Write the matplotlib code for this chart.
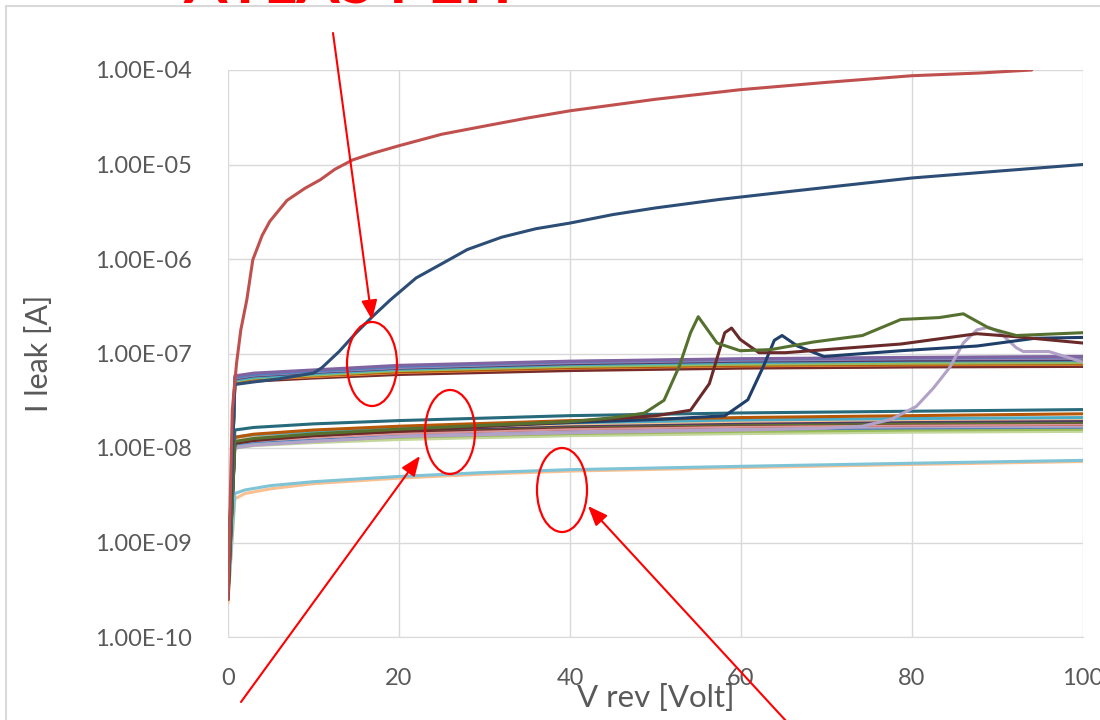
import matplotlib
matplotlib.use("Agg")
import matplotlib.pyplot as plt
from matplotlib.patches import Ellipse, Rectangle
from matplotlib.transforms import IdentityTransform
from matplotlib.ticker import FixedLocator, NullLocator, FuncFormatter

plt.rcParams["font.family"] = ["Lato", "DejaVu Sans"]

# common voltage grid for the flat (non-breakdown) curves
V_FLAT = [0, 0.8, 3, 10, 20, 40, 60, 80, 100]

# upper band, ~5e-8 .. 9e-8 A
UPPER_COLORS = ["#5F7530", "#772C2A", "#F79646", "#B65708", "#9BBB59", "#4BACC6",
                "#4D3B62", "#9983B5", "#4F81BD", "#8064A2"]
UPPER_CURVES = [
    [2.9e-10, 4.9e-8, 5.2e-8, 5.6e-8, 6.1e-8, 6.8e-8, 7.1e-8, 7.3e-8, 7.4e-8],
    [2.7e-10, 4.8e-8, 5.1e-8, 5.5e-8, 6.0e-8, 6.6e-8, 7.0e-8, 7.2e-8, 7.3e-8],
    [3.0e-10, 5.0e-8, 5.3e-8, 5.7e-8, 6.3e-8, 7.0e-8, 7.4e-8, 7.6e-8, 7.7e-8],
    [3.1e-10, 5.0e-8, 5.4e-8, 5.8e-8, 6.4e-8, 7.1e-8, 7.5e-8, 7.7e-8, 7.8e-8],
    [2.5e-10, 5.1e-8, 5.5e-8, 5.9e-8, 6.6e-8, 7.3e-8, 7.7e-8, 7.9e-8, 8.0e-8],
    [3.2e-10, 5.2e-8, 5.6e-8, 6.1e-8, 6.8e-8, 7.6e-8, 8.0e-8, 8.3e-8, 8.4e-8],
    [3.5e-10, 5.4e-8, 5.8e-8, 6.3e-8, 7.0e-8, 7.8e-8, 8.3e-8, 8.5e-8, 8.6e-8],
    [2.8e-10, 5.5e-8, 5.9e-8, 6.4e-8, 7.1e-8, 8.0e-8, 8.5e-8, 8.8e-8, 8.9e-8],
    [2.6e-10, 5.6e-8, 6.0e-8, 6.5e-8, 7.3e-8, 8.2e-8, 8.7e-8, 9.0e-8, 9.2e-8],
    [3.0e-10, 5.8e-8, 6.2e-8, 6.7e-8, 7.5e-8, 8.3e-8, 8.8e-8, 9.1e-8, 9.3e-8],
]

# middle band, ~1e-8 .. 2.5e-8 A
MIDDLE_COLORS = ["#C3D69B", "#9BBB59", "#95B3D7", "#4F81BD", "#B3A2C7", "#C0504D",
                 "#D99694", "#772C2A", "#5F7530", "#4D3B62", "#FAC090", "#4BACC6",
                 "#B65708", "#276A7C"]
MIDDLE_CURVES = [
    [6.0e-10, 1.00e-8, 1.06e-8, 1.14e-8, 1.23e-8, 1.35e-8, 1.42e-8, 1.47e-8, 1.50e-8],
    [2.5e-10, 1.05e-8, 1.12e-8, 1.20e-8, 1.30e-8, 1.42e-8, 1.50e-8, 1.55e-8, 1.58e-8],
    [2.7e-10, 1.08e-8, 1.15e-8, 1.25e-8, 1.37e-8, 1.52e-8, 1.60e-8, 1.66e-8, 1.70e-8],
    [3.1e-10, 1.10e-8, 1.17e-8, 1.27e-8, 1.38e-8, 1.50e-8, 1.58e-8, 1.63e-8, 1.66e-8],
    [2.7e-10, 1.12e-8, 1.20e-8, 1.30e-8, 1.42e-8, 1.55e-8, 1.62e-8, 1.68e-8, 1.70e-8],
    [2.9e-10, 1.15e-8, 1.22e-8, 1.32e-8, 1.45e-8, 1.60e-8, 1.70e-8, 1.75e-8, 1.78e-8],
    [2.8e-10, 1.14e-8, 1.20e-8, 1.30e-8, 1.44e-8, 1.60e-8, 1.70e-8, 1.76e-8, 1.80e-8],
    [3.3e-10, 1.18e-8, 1.25e-8, 1.36e-8, 1.50e-8, 1.68e-8, 1.78e-8, 1.84e-8, 1.87e-8],
    [9.0e-10, 1.20e-8, 1.28e-8, 1.40e-8, 1.55e-8, 1.72e-8, 1.80e-8, 1.85e-8, 1.88e-8],
    [3.4e-10, 1.20e-8, 1.28e-8, 1.40e-8, 1.55e-8, 1.75e-8, 1.85e-8, 1.92e-8, 1.95e-8],
    [2.6e-10, 1.25e-8, 1.33e-8, 1.45e-8, 1.60e-8, 1.80e-8, 1.92e-8, 2.00e-8, 2.05e-8],
    [3.2e-10, 1.30e-8, 1.38e-8, 1.50e-8, 1.65e-8, 1.85e-8, 1.98e-8, 2.05e-8, 2.10e-8],
    [2.8e-10, 1.30e-8, 1.40e-8, 1.55e-8, 1.70e-8, 1.95e-8, 2.10e-8, 2.20e-8, 2.30e-8],
    [5.0e-10, 1.55e-8, 1.65e-8, 1.80e-8, 1.95e-8, 2.20e-8, 2.35e-8, 2.45e-8, 2.55e-8],
]

# lower band, ~3e-9 .. 7.5e-9 A
V_LOW = [0, 0.8, 2, 5, 10, 20, 30, 40, 60, 80, 100]
LOWER_COLORS = ["#FAC090", "#7FC3D6"]
LOWER_CURVES = [
    [2.3e-10, 2.9e-9, 3.3e-9, 3.7e-9, 4.2e-9, 4.8e-9, 5.3e-9, 5.7e-9, 6.2e-9, 6.7e-9, 7.2e-9],
    [2.5e-10, 3.3e-9, 3.6e-9, 4.0e-9, 4.4e-9, 5.0e-9, 5.5e-9, 5.9e-9, 6.4e-9, 6.9e-9, 7.4e-9],
]

# curves with a breakdown bump
V_OLIVE = [0, 0.8, 3, 10, 20, 30, 40, 45, 48.7, 51, 52.8, 54.1, 55, 57.2, 59.9,
           63.5, 68.4, 74.2, 78.7, 83.2, 86, 89, 92.2, 100]
I_OLIVE = [2.5e-10, 1.17e-8, 1.26e-8, 1.41e-8, 1.58e-8, 1.74e-8, 1.9e-8, 2.09e-8, 2.34e-8,
           3.2e-8, 7.4e-8, 1.66e-7, 2.45e-7, 1.29e-7, 1.07e-7, 1.1e-7, 1.32e-7, 1.55e-7,
           2.29e-7, 2.4e-7, 2.63e-7, 1.86e-7, 1.55e-7, 1.66e-7]

V_MAROON = [0, 0.8, 3, 10, 20, 30, 40, 50, 54.1, 56.3, 58.1, 58.9, 59.9, 62.1, 65.2,
            70, 78.7, 87.6, 92, 100]
I_MAROON = [2.6e-10, 1.12e-8, 1.2e-8, 1.35e-8, 1.51e-8, 1.7e-8, 1.9e-8, 2.19e-8, 2.51e-8,
            4.8e-8, 1.66e-7, 1.86e-7, 1.41e-7, 1.02e-7, 1.02e-7, 1.1e-7, 1.26e-7, 1.62e-7,
            1.51e-7, 1.29e-7]

V_NAVY = [0, 0.8, 3, 10, 20, 30, 40, 50, 58.1, 60.8, 62.6, 63.9, 64.8, 66.6, 69.7,
          78.7, 87.6, 94.4, 100]
I_NAVY = [2.7e-10, 1.15e-8, 1.23e-8, 1.38e-8, 1.55e-8, 1.7e-8, 1.86e-8, 2.0e-8, 2.19e-8,
          3.24e-8, 7.24e-8, 1.38e-7, 1.55e-7, 1.2e-7, 9.3e-8, 1.07e-7, 1.2e-7, 1.45e-7, 1.48e-7]

V_LAVENDER = [0, 0.8, 3, 10, 20, 40, 60, 70, 74.2, 77.5, 80.5, 82.5, 84.4, 86, 87.6,
              89, 90.3, 92.2, 93, 96, 100]
I_LAVENDER = [2.5e-10, 1.0e-8, 1.07e-8, 1.17e-8, 1.32e-8, 1.45e-8, 1.55e-8, 1.62e-8, 1.7e-8,
              2.0e-8, 2.75e-8, 4.3e-8, 7.1e-8, 1.29e-7, 1.78e-7, 1.9e-7, 1.66e-7, 1.15e-7,
              1.05e-7, 1.05e-7, 8.1e-8]

# the two high-current sensors
V_RED = [0, 0.5, 1, 1.5, 2.2, 2.9, 4, 4.9, 6.9, 9, 10.8, 12.5, 14.6, 17, 20, 25, 30,
         35, 40, 50, 60, 70, 80, 88, 94]
I_RED = [2.5e-10, 2.5e-8, 7.9e-8, 1.78e-7, 3.7e-7, 9.8e-7, 1.78e-6, 2.51e-6, 4.17e-6,
         5.6e-6, 6.9e-6, 8.9e-6, 1.12e-5, 1.32e-5, 1.58e-5, 2.09e-5, 2.55e-5, 3.1e-5,
         3.7e-5, 4.9e-5, 6.2e-5, 7.4e-5, 8.7e-5, 9.3e-5, 1.0e-4]

V_BLUE = [0, 0.8, 3, 6, 10, 11, 13, 15, 17, 19, 22, 25, 28, 32, 36, 40, 45, 50, 57.5,
          65, 72, 80, 90, 100]
I_BLUE = [2.5e-10, 4.7e-8, 5.0e-8, 5.4e-8, 6.2e-8, 7.1e-8, 1.05e-7, 1.66e-7, 2.51e-7,
          3.7e-7, 6.3e-7, 8.9e-7, 1.26e-6, 1.7e-6, 2.09e-6, 2.4e-6, 2.95e-6, 3.47e-6,
          4.27e-6, 5.1e-6, 6.0e-6, 7.2e-6, 8.5e-6, 1.0e-5]

X_TICKS = [0, 20, 40, 60, 80, 100]
Y_TICKS = [1e-10, 1e-9, 1e-8, 1e-7, 1e-6, 1e-5, 1e-4]

LW = 2.2
GRID_COLOR = "#D9D9D9"
TEXT_COLOR = "#595959"
RED = "#FF0000"


def px(x, y):
    # figure pixel coords from top-left image coords
    return (x, 720 - y)


def main():
    fig = plt.figure(figsize=(11, 7.2), dpi=100)
    ax = fig.add_axes([228 / 1100, 83 / 720, 855 / 1100, 567 / 720])

    line = dict(lw=LW, solid_joinstyle="round", solid_capstyle="round")
    for color, vals in zip(LOWER_COLORS, LOWER_CURVES):
        ax.plot(V_LOW, vals, color=color, **line)
    for color, vals in zip(MIDDLE_COLORS, MIDDLE_CURVES):
        ax.plot(V_FLAT, vals, color=color, **line)
    for color, vals in zip(UPPER_COLORS, UPPER_CURVES):
        ax.plot(V_FLAT, vals, color=color, **line)

    ax.plot(V_LAVENDER, I_LAVENDER, color="#B3A2C7", **line)
    ax.plot(V_NAVY, I_NAVY, color="#1F3F6A", **line)
    ax.plot(V_MAROON, I_MAROON, color="#6B2A2A", **line)
    ax.plot(V_OLIVE, I_OLIVE, color="#56712F", **line)
    ax.plot(V_BLUE, I_BLUE, color="#2C4D75", **line)
    ax.plot(V_RED, I_RED, color="#C0504D", **line)

    ax.set_yscale("log")
    ax.set_xlim(0, 100)
    ax.set_ylim(1e-10, 1e-4)
    ax.xaxis.set_major_locator(FixedLocator(X_TICKS))
    ax.yaxis.set_major_locator(FixedLocator(Y_TICKS))
    ax.yaxis.set_minor_locator(NullLocator())
    ax.yaxis.set_major_formatter(FuncFormatter(lambda v, _: f"{v:.2E}"))
    ax.grid(True, color=GRID_COLOR, lw=1.0)
    ax.set_axisbelow(True)
    for side in ["top", "right", "left"]:
        ax.spines[side].set_visible(False)
    ax.spines["bottom"].set_color(GRID_COLOR)
    ax.tick_params(length=0, labelsize=17, labelcolor=TEXT_COLOR)
    ax.tick_params(axis="x", pad=22)
    ax.tick_params(axis="y", pad=26)

    ax.set_xlabel("V rev [Volt]", fontsize=22.5, color=TEXT_COLOR)
    ax.xaxis.set_label_coords(0.5, -0.083)
    ax.set_ylabel("I leak [A]", fontsize=22, color=TEXT_COLOR)
    ax.yaxis.set_label_coords(-0.205, 0.5)

    # chart-area border of the original screenshot
    fig.add_artist(Rectangle((6, -20), 1200, 734, transform=IdentityTransform(),
                             fill=False, edgecolor=GRID_COLOR, lw=1.5))

    # title, cut off at the top edge
    fig.text(348 / 1100, 716 / 720, "ATLAS PEH", ha="center", va="baseline",
             color=RED, fontsize=45, fontweight="bold")

    # red annotation ellipses and arrows
    for cx, cy in [(372, 364), (450, 432), (562, 490)]:
        fig.add_artist(Ellipse(px(cx, cy), 50, 84, transform=IdentityTransform(),
                               fill=False, edgecolor=RED, lw=1.6))

    arrow = dict(arrowstyle="-|>,head_length=1.0,head_width=0.4", color=RED,
                 lw=1.5, shrinkA=0, shrinkB=0, mutation_scale=12)
    for start, tip in [((333, 33), (372, 320)), ((241, 702), (420, 456)),
                       ((787, 722), (588, 506))]:
        ax.annotate("", xy=px(*tip), xytext=px(*start), xycoords="figure pixels",
                    textcoords="figure pixels", arrowprops=arrow, annotation_clip=False)

    fig.savefig("out.png", dpi=100)


if __name__ == "__main__":
    main()
